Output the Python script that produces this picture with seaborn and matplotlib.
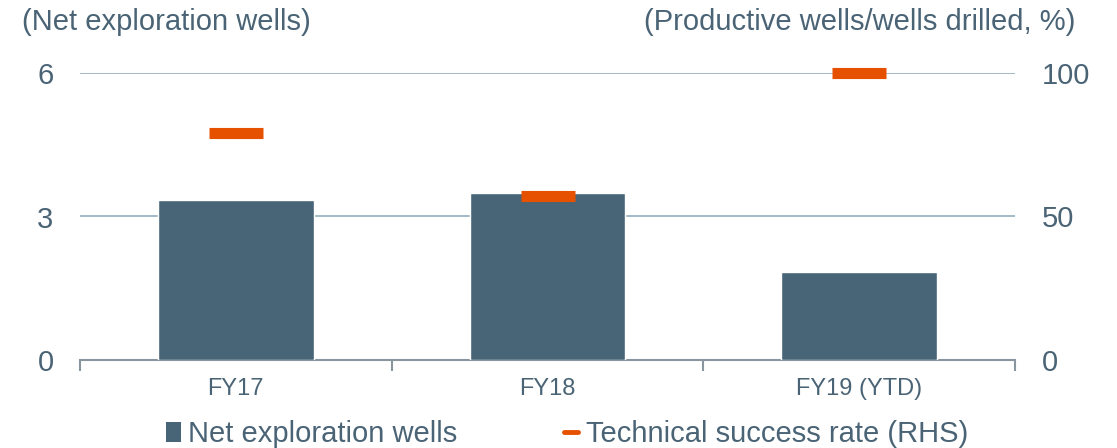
import matplotlib
matplotlib.use("Agg")
import matplotlib.pyplot as plt
import seaborn as sns
import pandas as pd
from matplotlib.lines import Line2D
from matplotlib.patches import Patch

# data
years = ["FY17", "FY18", "FY19 (YTD)"]
net_wells = [3.34, 3.49, 1.83]
success_rate = [79, 57, 100]

df = pd.DataFrame({"Year": years, "Wells": net_wells, "Rate": success_rate})

sns.set_style("white")
plt.rcParams["font.family"] = ["Liberation Sans", "DejaVu Sans"]

txt = "#4a6476"
bar_col = "#486577"
orange = "#e65100"
grid_col = "#9db4c3"
axis_col = "#8a969f"

fig = plt.figure(figsize=(11.17, 4.48), dpi=100)
ax = fig.add_axes([80 / 1117, 1 - 360 / 448, 935 / 1117, 287 / 448])

sns.barplot(data=df, x="Year", y="Wells", color=bar_col, width=0.5, saturation=1, ax=ax, zorder=3)
ax.set_ylim(0, 6)
ax.set_yticks([0, 3, 6])
ax.set_xlim(-0.5, 2.5)
for y in [3, 6]:
    ax.axhline(y, color=grid_col, lw=1.3, zorder=1)

ax2 = ax.twinx()
sns.scatterplot(data=df, x="Year", y="Rate", marker="_", s=39 ** 2, linewidth=8,
                color=orange, ax=ax2, zorder=5, legend=False, clip_on=False)
ax2.set_ylim(0, 100)
ax2.set_yticks([0, 50, 100])
ax2.set_xlim(-0.5, 2.5)

for a in (ax, ax2):
    for s in a.spines.values():
        s.set_visible(False)
    a.set_xlabel("")
    a.set_ylabel("")

ax.spines["bottom"].set_visible(True)
ax.spines["bottom"].set_color(axis_col)
ax.spines["bottom"].set_linewidth(1.5)
ax.set_xticks([-0.5, 0.5, 1.5, 2.5], minor=False)
ax.set_xticklabels([])
ax.tick_params(axis="x", which="major", bottom=True, length=8, width=1.5, color=axis_col, direction="out")
ax.set_xticks([0, 1, 2], minor=True)
ax.set_xticklabels(years, minor=True)
ax.tick_params(axis="x", which="minor", bottom=True, length=0, pad=13, labelsize=17, labelcolor=txt)

ax.tick_params(axis="y", length=0, pad=19, labelsize=21, labelcolor=txt)
ax2.tick_params(axis="y", length=0, pad=19, labelsize=21, labelcolor=txt)

fig.text(22 / 1117, 1 - 22 / 448, "(Net exploration wells)", fontsize=21, color=txt, va="center", ha="left")
fig.text(1075 / 1117, 1 - 22 / 448, "(Productive wells/wells drilled, %)", fontsize=21, color=txt, va="center", ha="right")

handles = [Patch(facecolor=bar_col, edgecolor="none"),
           Line2D([0], [0], color=orange, lw=3.5)]
fig.legend(handles, ["Net exploration wells", "Technical success rate (RHS)"],
           loc="center", bbox_to_anchor=(567 / 1117, 1 - 434 / 448), ncol=2, frameon=False,
           fontsize=21, labelcolor=txt, handlelength=0.5, handleheight=0.7, handletextpad=0.25,
           columnspacing=3.65, borderpad=0)

fig.savefig("out.png", dpi=100)
